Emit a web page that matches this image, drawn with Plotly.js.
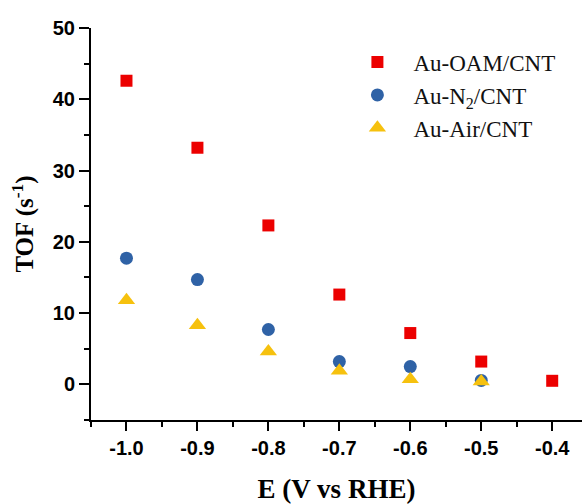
<!DOCTYPE html>
<html>
<head>
<meta charset="utf-8">
<script src="https://cdn.plot.ly/plotly-3.0.1.min.js"></script>
<style>html,body{margin:0;padding:0;background:#fff;}#chart{width:582px;height:504px;}</style>
</head>
<body>
<div id="chart"></div>
<script>
const potentials = [-1.0, -0.9, -0.8, -0.7, -0.6, -0.5, -0.4];
const tofOAM = [42.6, 33.2, 22.3, 12.6, 7.2, 3.2, 0.5];
const potentialsN2 = [-1.0, -0.9, -0.8, -0.7, -0.6, -0.5];
const tofN2 = [17.7, 14.7, 7.7, 3.2, 2.5, 0.55];
const potentialsAir = [-1.0, -0.9, -0.8, -0.7, -0.6, -0.5];
const tofAir = [11.8, 8.3, 4.6, 1.9, 0.7, 0.4];
const seriesNames = ['Au-OAM/CNT', 'Au-N<sub>2</sub>/CNT', 'Au-Air/CNT'];
const xTickVals = [-1.0, -0.9, -0.8, -0.7, -0.6, -0.5, -0.4];
const xTickText = ['-1.0', '-0.9', '-0.8', '-0.7', '-0.6', '-0.5', '-0.4'];
const yTickVals = [0, 10, 20, 30, 40, 50];

const traces = [
  {x: potentials, y: tofOAM, name: seriesNames[0], mode: 'markers', type: 'scatter',
   marker: {symbol: 'square', size: 12, color: '#ec0000'}},
  {x: potentialsN2, y: tofN2, name: seriesNames[1], mode: 'markers', type: 'scatter',
   marker: {symbol: 'circle', size: 13, color: '#2f62a6'}},
  {x: potentialsAir, y: tofAir, name: seriesNames[2], mode: 'markers', type: 'scatter',
   marker: {symbol: 'triangle-up', size: 15, color: '#f6c10e'}}
];

const layout = {
  width: 582, height: 504,
  margin: {l: 91, r: 0, t: 28, b: 84},
  paper_bgcolor: '#fff', plot_bgcolor: '#fff',
  showlegend: true,
  legend: {x: 0.51, y: 0.968, xanchor: 'left', yanchor: 'top',
    font: {family: 'Liberation Serif, Times New Roman, serif', size: 23, color: '#111'},
    bgcolor: 'rgba(0,0,0,0)', itemwidth: 62, itemsizing: 'trace'},
  xaxis: {
    range: [-1.05, -0.358],
    tickvals: xTickVals, ticktext: xTickText,
    ticks: 'outside', ticklen: 9, tickwidth: 2, tickcolor: '#000',
    minor: {dtick: 0.05, tick0: -1.05, ticks: 'outside', ticklen: 5, tickwidth: 2, tickcolor: '#000'},
    showline: true, linecolor: '#000', linewidth: 2, mirror: false,
    showgrid: false, zeroline: false,
    tickfont: {family: 'Liberation Sans, Arial, sans-serif', size: 20, color: '#000', weight: 'bold'},
    title: {text: '<b>E (V vs RHE)</b>', standoff: 21,
      font: {family: 'Liberation Serif, Times New Roman, serif', size: 27, color: '#000'}}
  },
  yaxis: {
    range: [-5, 50],
    tickvals: yTickVals,
    ticks: 'outside', ticklen: 10, tickwidth: 2, tickcolor: '#000',
    minor: {dtick: 5, tick0: -5, ticks: 'outside', ticklen: 5, tickwidth: 2, tickcolor: '#000'},
    showline: true, linecolor: '#000', linewidth: 2, mirror: false,
    showgrid: false, zeroline: false,
    tickfont: {family: 'Liberation Sans, Arial, sans-serif', size: 20, color: '#000', weight: 'bold'},
    title: {text: '<b>TOF (s<sup>-1</sup>)</b>', standoff: 12,
      font: {family: 'Liberation Serif, Times New Roman, serif', size: 25, color: '#000'}}
  }
};

Plotly.newPlot('chart', traces, layout, {displayModeBar: false, staticPlot: true});
</script>
</body>
</html>
